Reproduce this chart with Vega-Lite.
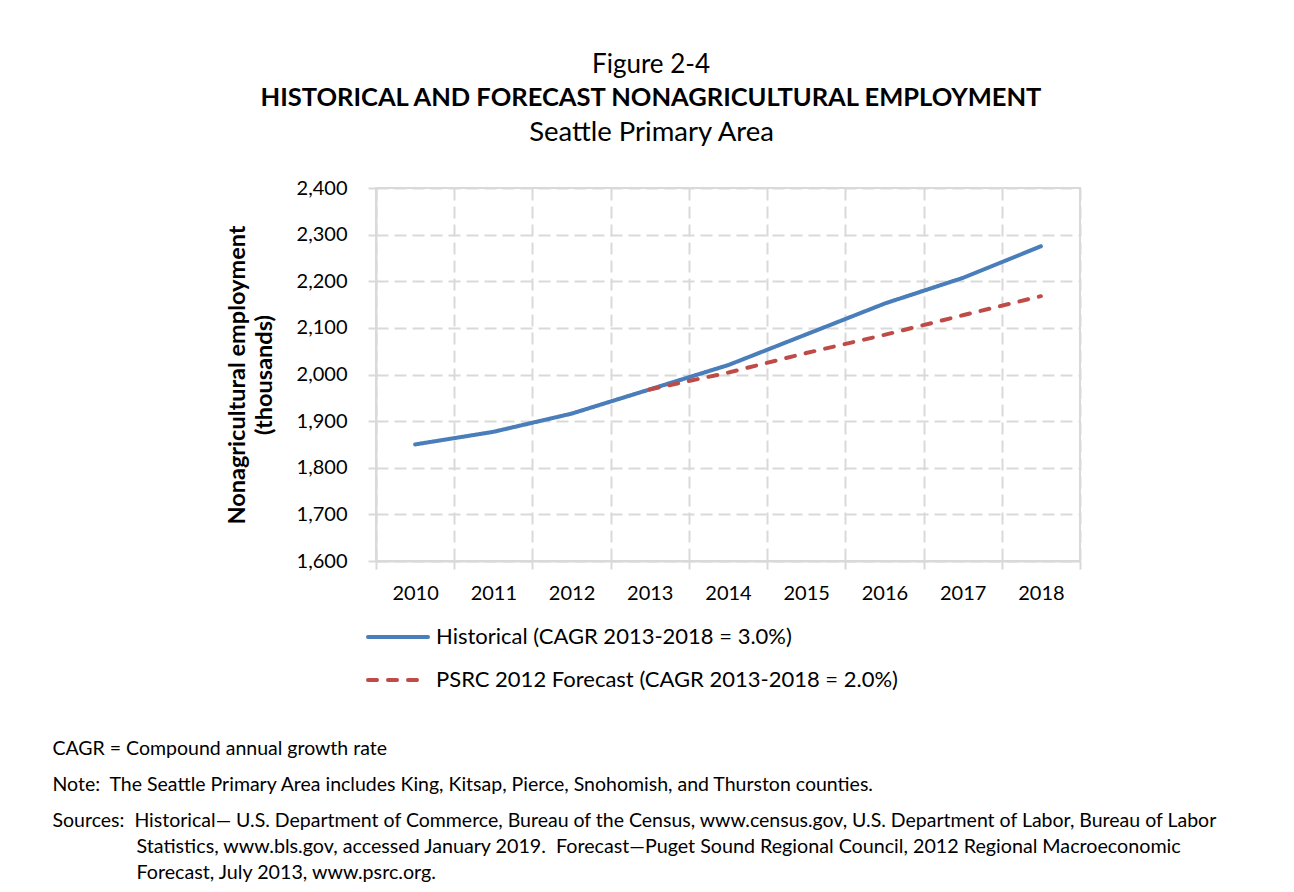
{
  "$schema": "https://vega.github.io/schema/vega-lite/v6.json",
  "width": 704,
  "height": 373,
  "autosize": {"type": "none"},
  "padding": {"left": 376, "top": 188, "right": 214, "bottom": 331},
  "background": "white",
  "title": {
    "text": "Figure 2-4",
    "subtitle": "HISTORICAL AND FORECAST NONAGRICULTURAL EMPLOYMENT",
    "anchor": "middle",
    "frame": "group",
    "dx": -77,
    "font": "Lato",
    "fontSize": 26,
    "fontWeight": "normal",
    "color": "#000000",
    "subtitleFont": "Lato",
    "subtitleFontSize": 25.5,
    "subtitleFontWeight": "bold",
    "subtitleColor": "#000000",
    "subtitlePadding": 8,
    "offset": 7
  },
  "data": {
    "values": [
      {"year": "2010", "series": "Historical (CAGR 2013-2018 = 3.0%)", "value": 1850},
      {"year": "2011", "series": "Historical (CAGR 2013-2018 = 3.0%)", "value": 1877},
      {"year": "2012", "series": "Historical (CAGR 2013-2018 = 3.0%)", "value": 1916},
      {"year": "2013", "series": "Historical (CAGR 2013-2018 = 3.0%)", "value": 1968},
      {"year": "2014", "series": "Historical (CAGR 2013-2018 = 3.0%)", "value": 2020},
      {"year": "2015", "series": "Historical (CAGR 2013-2018 = 3.0%)", "value": 2086},
      {"year": "2016", "series": "Historical (CAGR 2013-2018 = 3.0%)", "value": 2152},
      {"year": "2017", "series": "Historical (CAGR 2013-2018 = 3.0%)", "value": 2207},
      {"year": "2018", "series": "Historical (CAGR 2013-2018 = 3.0%)", "value": 2275},
      {"year": "2013", "series": "PSRC 2012 Forecast (CAGR 2013-2018 = 2.0%)", "value": 1968},
      {"year": "2014", "series": "PSRC 2012 Forecast (CAGR 2013-2018 = 2.0%)", "value": 2004},
      {"year": "2015", "series": "PSRC 2012 Forecast (CAGR 2013-2018 = 2.0%)", "value": 2046},
      {"year": "2016", "series": "PSRC 2012 Forecast (CAGR 2013-2018 = 2.0%)", "value": 2085},
      {"year": "2017", "series": "PSRC 2012 Forecast (CAGR 2013-2018 = 2.0%)", "value": 2127},
      {"year": "2018", "series": "PSRC 2012 Forecast (CAGR 2013-2018 = 2.0%)", "value": 2168}
    ]
  },
  "encoding": {
    "color": {
      "field": "series",
      "type": "nominal",
      "scale": {
        "domain": ["Historical (CAGR 2013-2018 = 3.0%)", "PSRC 2012 Forecast (CAGR 2013-2018 = 2.0%)"],
        "range": ["#4A7EBB", "#BE4B48"]
      },
      "legend": {
        "title": null,
        "orient": "none",
        "legendX": -10,
        "legendY": 417,
        "symbolType": "stroke",
        "symbolSize": 3600,
        "symbolStrokeWidth": 4,
        "labelFont": "Lato",
        "labelFontSize": 22,
        "labelColor": "#000000",
        "labelOffset": 6,
        "labelLimit": 0,
        "rowPadding": -24,
        "padding": 0,
        "encode": {"symbols": {"update": {"strokeCap": {"value": "round"}}}}
      }
    },
    "strokeDash": {
      "field": "series",
      "type": "nominal",
      "scale": {
        "domain": ["Historical (CAGR 2013-2018 = 3.0%)", "PSRC 2012 Forecast (CAGR 2013-2018 = 2.0%)"],
        "range": [[1, 0], [9, 11]]
      },
      "legend": {
        "title": null,
        "orient": "none",
        "legendX": -10,
        "legendY": 417,
        "symbolType": "stroke",
        "symbolSize": 3600,
        "symbolStrokeWidth": 4,
        "labelFont": "Lato",
        "labelFontSize": 22,
        "labelColor": "#000000",
        "labelOffset": 6,
        "labelLimit": 0,
        "rowPadding": -24,
        "padding": 0,
        "encode": {"symbols": {"update": {"strokeCap": {"value": "round"}}}}
      }
    }
  },
  "layer": [
    {
      "transform": [{"filter": "datum.series === 'Historical (CAGR 2013-2018 = 3.0%)'"}],
      "mark": {"type": "line", "strokeWidth": 4, "strokeCap": "round", "strokeJoin": "round"},
      "encoding": {
        "x": {
          "field": "year",
          "type": "ordinal",
          "bandPosition": 0.5,
          "scale": {"type": "band", "paddingInner": 0, "paddingOuter": 0, "domain": ["2010", "2011", "2012", "2013", "2014", "2015", "2016", "2017", "2018"]},
          "axis": {
            "orient": "bottom",
            "labelAngle": 0,
            "labelFont": "Lato",
            "labelFontSize": 20,
            "labelColor": "#000000",
            "labelPadding": 14,
            "tickBand": "extent",
            "tickSize": 8,
            "tickColor": "#d9d9d9",
            "tickWidth": 2,
            "domainColor": "#d9d9d9",
            "domainWidth": 2,
            "grid": true,
            "gridColor": "#d9d9d9",
            "gridWidth": 2,
            "gridDash": [12, 6],
            "title": [
              "CAGR = Compound annual growth rate",
              "Note:\u00a0 The Seattle Primary Area includes King, Kitsap, Pierce, Snohomish, and Thurston counties.",
              "Sources:\u00a0 Historical\u2014 U.S. Department of Commerce, Bureau of the Census, www.census.gov, U.S. Department of Labor, Bureau of Labor"
            ],
            "titleFont": "Lato",
            "titleFontSize": 19.5,
            "titleFontWeight": "normal",
            "titleColor": "#000000",
            "titleLineHeight": 36,
            "titleAngle": 0,
            "titleAlign": "left",
            "titleBaseline": "alphabetic",
            "titleX": -324,
            "titleY": 193
          }
        },
        "y": {
          "field": "value",
          "type": "quantitative",
          "scale": {"domain": [1600, 2400], "nice": false, "zero": false},
          "axis": {
            "orient": "left",
            "values": [1600, 1700, 1800, 1900, 2000, 2100, 2200, 2300, 2400],
            "format": ",.0f",
            "labelFont": "Lato",
            "labelFontSize": 20,
            "labelColor": "#000000",
            "labelPadding": 21,
            "tickSize": 8,
            "tickColor": "#d9d9d9",
            "tickWidth": 2,
            "domainColor": "#d9d9d9",
            "domainWidth": 2,
            "grid": true,
            "gridColor": "#d9d9d9",
            "gridWidth": 2,
            "gridDash": [12, 6],
            "title": ["Nonagricultural employment", "(thousands)"],
            "titleFont": "Lato",
            "titleFontSize": 23.5,
            "titleFontWeight": "bold",
            "titleColor": "#000000",
            "titleLineHeight": 27,
            "titleAngle": -90,
            "titleAlign": "center",
            "titleBaseline": "middle",
            "titleX": -139,
            "titleY": 186.5
          }
        }
      }
    },
    {
      "transform": [{"filter": "datum.series === 'PSRC 2012 Forecast (CAGR 2013-2018 = 2.0%)'"}],
      "mark": {"type": "line", "strokeWidth": 4, "strokeCap": "round", "strokeJoin": "round"},
      "encoding": {
        "x": {
          "field": "year",
          "type": "ordinal",
          "bandPosition": 0.5,
          "axis": {
            "orient": "top",
            "labels": false,
            "ticks": false,
            "domain": false,
            "grid": false,
            "title": "Seattle Primary Area",
            "titleFont": "Lato",
            "titleFontSize": 27.5,
            "titleFontWeight": "normal",
            "titleColor": "#000000",
            "titleAngle": 0,
            "titleAlign": "center",
            "titleBaseline": "alphabetic",
            "titleX": 275,
            "titleY": -48
          }
        },
        "y": {
          "field": "value",
          "type": "quantitative",
          "axis": {
            "orient": "right",
            "labels": false,
            "ticks": false,
            "domain": false,
            "grid": false,
            "title": [
              "Statistics, www.bls.gov, accessed January 2019.\u00a0 Forecast\u2014Puget Sound Regional Council, 2012 Regional Macroeconomic",
              "Forecast, July 2013, www.psrc.org."
            ],
            "titleFont": "Lato",
            "titleFontSize": 19.7,
            "titleFontWeight": "normal",
            "titleColor": "#000000",
            "titleLineHeight": 26,
            "titleAngle": 0,
            "titleAlign": "left",
            "titleBaseline": "alphabetic",
            "titleX": -944,
            "titleY": 664
          }
        }
      }
    }
  ],
  "resolve": {"axis": {"x": "independent", "y": "independent"}},
  "config": {
    "view": {"stroke": "#d9d9d9", "strokeWidth": 2},
    "font": "Lato"
  }
}
